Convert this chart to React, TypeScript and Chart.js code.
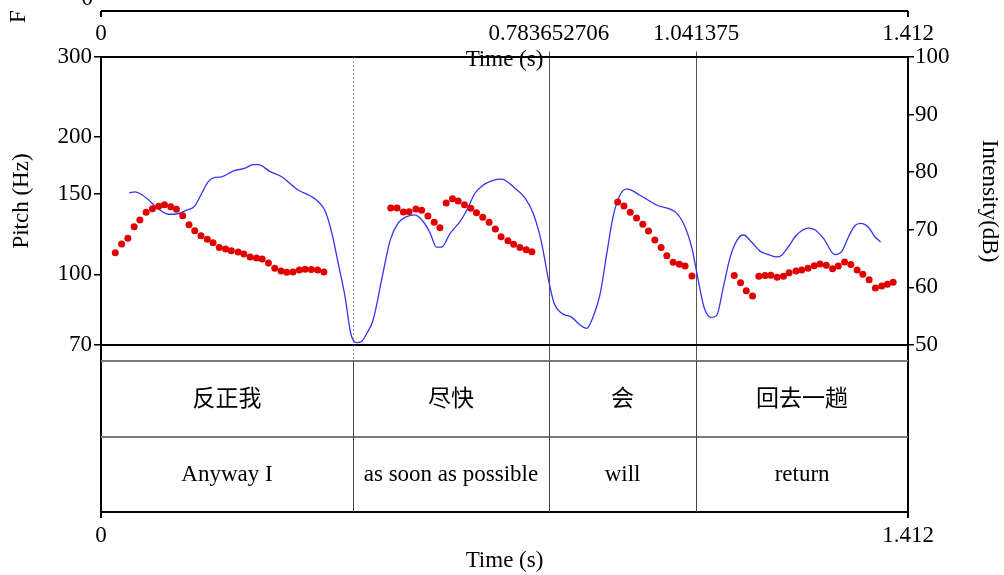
import React, { useEffect, useRef } from "react";
import { Chart, registerables } from "chart.js";

Chart.register(...registerables);

const W = 1004;
const H = 575;
const SERIF = '"Liberation Serif", "Times New Roman", serif';
const CJK = '"Noto Sans CJK SC", sans-serif';
const FS = 23;

// Pitch track (s, Hz)
const pitchTimes = [
  0.025, 0.036, 0.047, 0.058, 0.068, 0.079, 0.09, 0.101, 0.111, 0.122, 0.132, 0.143, 0.154, 0.164, 0.175,
  0.186, 0.196, 0.207, 0.218, 0.228, 0.24, 0.25, 0.261, 0.272, 0.282, 0.293, 0.304, 0.315, 0.325, 0.336,
  0.347, 0.357, 0.368, 0.379, 0.39,
  0.507, 0.518, 0.529, 0.539, 0.551, 0.561, 0.572, 0.583, 0.593, 0.604, 0.615, 0.625, 0.636, 0.647, 0.657,
  0.668, 0.679, 0.69, 0.7, 0.712, 0.722, 0.733, 0.744, 0.754,
  0.904, 0.915, 0.926, 0.937, 0.948, 0.958, 0.969, 0.98, 0.99, 1.001, 1.012, 1.022, 1.034,
  1.108, 1.119, 1.129, 1.14, 1.151, 1.162, 1.172, 1.183, 1.194, 1.204, 1.216, 1.226, 1.237, 1.248, 1.258,
  1.269, 1.28, 1.29, 1.301, 1.312, 1.323, 1.333, 1.344, 1.355, 1.366, 1.376, 1.386,
];
const pitchHz = [
  111.6, 116.6, 120.0, 127.3, 131.7, 136.9, 139.4, 141.1, 142.2, 140.8, 139.0, 134.5, 128.5, 124.7, 121.6,
  119.4, 117.4, 114.5, 113.7, 112.7, 112.0, 110.9, 109.2, 108.7, 108.1, 105.9, 103.1, 101.7, 101.1, 101.2,
  102.3, 102.6, 102.5, 102.3, 101.2,
  139.9, 139.9, 137.1, 137.3, 139.2, 138.3, 134.3, 130.1, 126.6, 143.5, 146.6, 144.9, 142.2, 139.7, 136.6,
  133.5, 130.1, 125.8, 121.0, 118.6, 116.4, 114.5, 113.3, 112.2,
  144.2, 141.3, 136.9, 133.0, 128.8, 124.5, 119.0, 114.5, 109.9, 106.3, 105.3, 104.3, 99.2,
  99.4, 95.9, 92.1, 89.7, 99.1, 99.4, 99.6, 98.6, 99.1, 100.9, 101.7, 102.3, 103.1, 104.5, 105.4,
  104.7, 102.9, 104.3, 106.5, 105.1, 102.3, 100.1, 97.4, 93.4, 94.3, 95.1, 96.1,
];

// Intensity contour (s, dB)
const intensityTimes = [
  0.0495, 0.0595, 0.068, 0.083, 0.097, 0.118, 0.129, 0.15, 0.164, 0.176, 0.188, 0.199, 0.211, 0.231, 0.252,
  0.266, 0.275, 0.296, 0.316, 0.345, 0.366, 0.38, 0.392, 0.404, 0.415, 0.427, 0.437, 0.447, 0.456, 0.465,
  0.476, 0.491, 0.506, 0.52, 0.535, 0.549, 0.564, 0.576, 0.587, 0.596, 0.611, 0.628, 0.64, 0.654, 0.669,
  0.686, 0.701, 0.721, 0.742, 0.756, 0.771, 0.783, 0.793, 0.806, 0.824, 0.838, 0.85, 0.861, 0.873, 0.885,
  0.896, 0.908, 0.92, 0.943, 0.972, 1.007, 1.022, 1.034, 1.042, 1.055, 1.067, 1.077, 1.089, 1.101, 1.113,
  1.124, 1.139, 1.153, 1.168, 1.182, 1.191, 1.203, 1.217, 1.238, 1.249, 1.264, 1.284, 1.296, 1.308, 1.319,
  1.329, 1.343, 1.354, 1.364,
];
const intensityDb = [
  76.4, 76.6, 76.3, 75.2, 73.9, 72.7, 72.7, 73.4, 74.1, 76.3, 78.4, 79.1, 79.2, 80.2, 80.7,
  81.3, 81.3, 80.1, 79.2, 76.9, 75.9, 74.9, 73.3, 69.4, 64.2, 58.4, 52.0, 50.4, 50.6, 52.0,
  54.3, 61.3, 68.2, 71.2, 72.3, 72.6, 71.4, 69.4, 67.0, 67.0, 69.4, 71.4, 73.4, 76.3, 77.8,
  78.6, 78.8, 77.5, 75.5, 72.9, 67.7, 61.3, 57.2, 55.5, 54.8, 53.5, 52.9, 54.9, 58.7, 65.9,
  72.3, 76.0, 77.1, 76.0, 74.3, 72.9, 70.5, 66.8, 62.8, 56.6, 54.8, 55.1, 60.1, 65.3, 68.2,
  69.1, 67.8, 66.3, 65.7, 65.3, 65.6, 67.1, 69.1, 70.3, 70.0, 68.5, 65.7, 66.2, 68.8, 70.7,
  71.1, 70.4, 68.8, 67.9,
];

const pitchTicks = [70, 100, 150, 200, 300];
const intensityTicks = [50, 60, 70, 80, 90, 100];
const topTimeTicks = [0, 0.783652706, 1.041375, 1.412];
const topTimeLabels = ["0", "0.783652706", "1.041375", "1.412"];
const bottomTimeTicks = [0, 1.412];
const bottomTimeLabels = ["0", "1.412"];
const boundaries = [0.4409, 0.783652706, 1.041375];
const tier1Labels = ["反正我", "尽快", "会", "回去一趟"];
const tier2Labels = ["Anyway I", "as soon as possible", "will", "return"];

const TG_TOP = 361;
const TG_MID = 437;
const TG_BOTTOM = 512;
const FRAG_Y = 11;

const overlay = {
  id: "overlay",
  beforeDatasetsDraw(chart: any) {
    const { ctx, chartArea: ca, scales } = chart;
    const x = scales.x;
    ctx.save();
    boundaries.forEach((b, i) => {
      const px = Math.round(x.getPixelForValue(b)) + 0.5;
      ctx.beginPath();
      ctx.lineWidth = 1;
      if (i === 0) {
        ctx.setLineDash([2, 2]);
        ctx.strokeStyle = "#9a9a9a";
        ctx.moveTo(px, ca.top);
        ctx.lineTo(px, TG_TOP);
      } else {
        ctx.setLineDash([]);
        ctx.strokeStyle = "#555";
        ctx.moveTo(px, ca.top - 5.5);
        ctx.lineTo(px, TG_TOP);
      }
      ctx.stroke();
    });
    ctx.restore();
  },
  afterDraw(chart: any) {
    const { ctx, chartArea: ca, scales } = chart;
    const x = scales.x;
    const L = ca.left;
    const R = ca.right;
    ctx.save();
    ctx.setLineDash([]);

    // upper fragment of a previous panel
    ctx.strokeStyle = "#000";
    ctx.lineWidth = 2;
    ctx.beginPath();
    ctx.moveTo(L, FRAG_Y);
    ctx.lineTo(R, FRAG_Y);
    ctx.moveTo(L, FRAG_Y);
    ctx.lineTo(L, FRAG_Y + 6);
    ctx.moveTo(R, FRAG_Y);
    ctx.lineTo(R, FRAG_Y + 6);
    ctx.stroke();
    ctx.fillStyle = "#000";
    ctx.font = `${FS}px ${SERIF}`;
    ctx.textAlign = "right";
    ctx.textBaseline = "alphabetic";
    ctx.fillText("0", 93, 5);
    ctx.save();
    ctx.translate(19, 23);
    ctx.rotate(-Math.PI / 2);
    ctx.textAlign = "left";
    ctx.textBaseline = "middle";
    ctx.fillText("F", 0, 0);
    ctx.restore();

    // top time labels
    ctx.textAlign = "center";
    ctx.textBaseline = "alphabetic";
    topTimeTicks.forEach((t, i) => {
      ctx.fillText(topTimeLabels[i], x.getPixelForValue(t), 40);
    });
    ctx.fillText("Time (s)", (L + R) / 2, 66);

    // frame
    ctx.strokeStyle = "#000";
    ctx.lineWidth = 2;
    ctx.beginPath();
    ctx.moveTo(L, ca.top);
    ctx.lineTo(R, ca.top);
    ctx.moveTo(L, ca.bottom);
    ctx.lineTo(R, ca.bottom);
    ctx.moveTo(L, ca.top);
    ctx.lineTo(L, TG_BOTTOM + 6);
    ctx.moveTo(R, ca.top);
    ctx.lineTo(R, TG_BOTTOM + 6);
    ctx.moveTo(L, TG_BOTTOM);
    ctx.lineTo(R, TG_BOTTOM);
    ctx.stroke();

    ctx.strokeStyle = "#7a7a7a";
    ctx.beginPath();
    ctx.moveTo(L, TG_TOP);
    ctx.lineTo(R, TG_TOP);
    ctx.moveTo(L, TG_MID);
    ctx.lineTo(R, TG_MID);
    ctx.stroke();

    // textgrid boundaries
    ctx.strokeStyle = "#444";
    ctx.lineWidth = 1;
    ctx.beginPath();
    boundaries.forEach((b) => {
      const px = Math.round(x.getPixelForValue(b)) + 0.5;
      ctx.moveTo(px, TG_TOP);
      ctx.lineTo(px, TG_BOTTOM);
    });
    ctx.stroke();

    // interval labels
    const edges = [0, ...boundaries, 1.412];
    ctx.fillStyle = "#000";
    ctx.textAlign = "center";
    ctx.textBaseline = "middle";
    for (let i = 0; i < edges.length - 1; i++) {
      const cx = (x.getPixelForValue(edges[i]) + x.getPixelForValue(edges[i + 1])) / 2;
      ctx.font = `${FS}px ${CJK}`;
      ctx.fillText(tier1Labels[i], cx, (TG_TOP + TG_MID) / 2 - 2);
      ctx.font = `${FS}px ${SERIF}`;
      ctx.fillText(tier2Labels[i], cx, (TG_MID + TG_BOTTOM) / 2);
    }

    // bottom time axis
    ctx.font = `${FS}px ${SERIF}`;
    ctx.textBaseline = "alphabetic";
    bottomTimeTicks.forEach((t, i) => {
      ctx.fillText(bottomTimeLabels[i], x.getPixelForValue(t), 542);
    });
    ctx.fillText("Time (s)", (L + R) / 2, 567);
    ctx.restore();
  },
};

export default function App() {
  const ref = useRef<HTMLCanvasElement | null>(null);
  useEffect(() => {
    if (!ref.current) return;
    const chart = new Chart(ref.current, {
      type: "scatter",
      data: {
        datasets: [
          {
            label: "Pitch",
            data: pitchTimes.map((t, i) => ({ x: t, y: pitchHz[i] })),
            yAxisID: "yP",
            pointRadius: 3.5,
            pointBackgroundColor: "#e00000",
            pointBorderWidth: 0,
            showLine: false,
            order: 0,
          },
          {
            type: "line",
            label: "Intensity",
            data: intensityTimes.map((t, i) => ({ x: t, y: intensityDb[i] })),
            yAxisID: "yI",
            borderColor: "#3535ee",
            borderWidth: 1.3,
            pointRadius: 0,
            fill: false,
            cubicInterpolationMode: "monotone",
            order: 1,
          } as any,
        ],
      },
      options: {
        responsive: false,
        devicePixelRatio: 1,
        animation: false,
        layout: { padding: { left: 0, right: 0, top: 57, bottom: 230 } },
        plugins: { legend: { display: false }, tooltip: { enabled: false } },
        scales: {
          x: { type: "linear", min: 0, max: 1.412, display: false },
          yP: {
            type: "logarithmic",
            position: "left",
            min: 70,
            max: 300,
            afterBuildTicks: (s: any) => {
              s.ticks = pitchTicks.map((v) => ({ value: v }));
            },
            afterFit: (s: any) => {
              s.width = 101;
            },
            ticks: {
              callback: (v: any) => String(v),
              color: "#000",
              font: { family: SERIF, size: FS },
              padding: 2,
              autoSkip: false,
            },
            grid: { drawOnChartArea: false, drawTicks: true, tickLength: 7, color: "#000", lineWidth: 1.5 },
            border: { display: false },
            title: {
              display: true,
              text: "Pitch (Hz)",
              color: "#000",
              font: { family: SERIF, size: FS },
              padding: { top: 8, bottom: 0 },
            },
          },
          yI: {
            type: "linear",
            position: "right",
            min: 50,
            max: 100,
            afterBuildTicks: (s: any) => {
              s.ticks = intensityTicks.map((v) => ({ value: v }));
            },
            afterFit: (s: any) => {
              s.width = W - 908;
            },
            ticks: {
              callback: (v: any) => String(v),
              color: "#000",
              font: { family: SERIF, size: FS },
              padding: 1,
              autoSkip: false,
            },
            grid: { drawOnChartArea: false, drawTicks: true, tickLength: 6, color: "#000", lineWidth: 1.5 },
            border: { display: false },
            title: {
              display: true,
              text: "Intensity(dB)",
              color: "#000",
              font: { family: SERIF, size: FS },
              padding: { top: 1, bottom: 0 },
            },
          },
        },
      } as any,
      plugins: [overlay],
    });
    return () => chart.destroy();
  }, []);

  return (
    <div style={{ position: "absolute", left: 0, top: 0, width: W, height: H, background: "#fff" }}>
      <canvas ref={ref} width={W} height={H} style={{ display: "block", width: W, height: H }} />
    </div>
  );
}
